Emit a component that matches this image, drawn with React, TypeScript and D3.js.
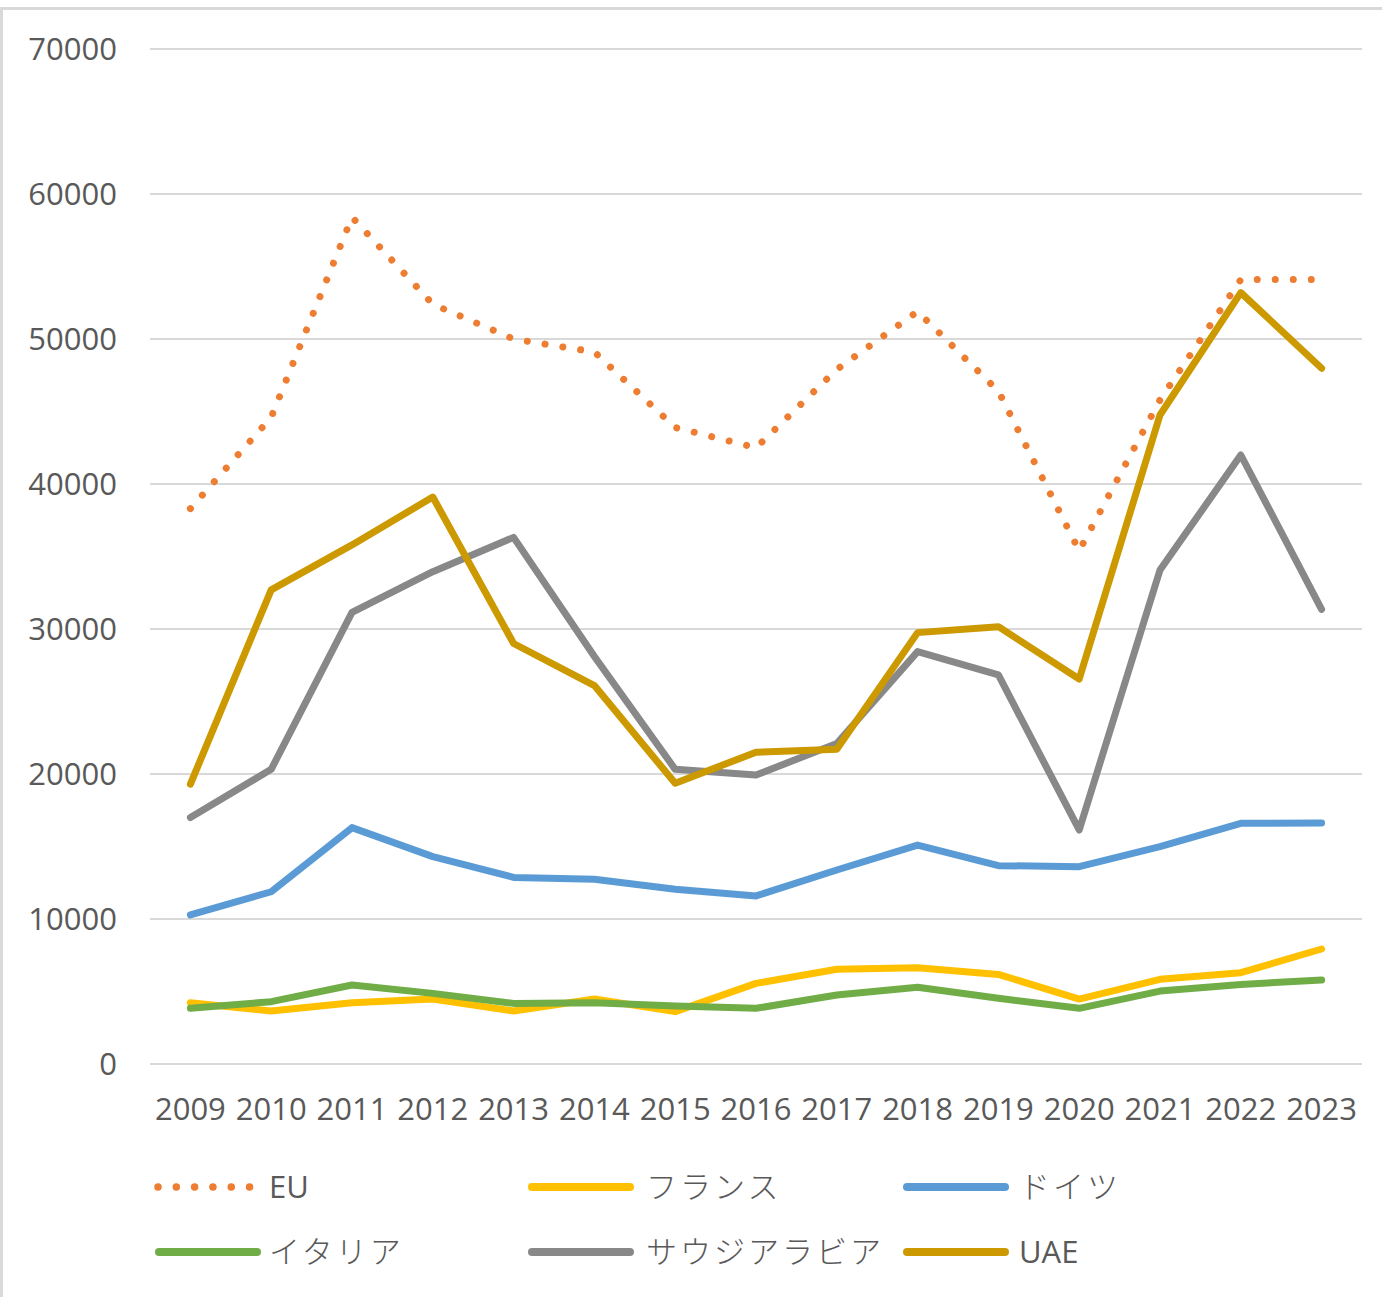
import React from "react";
import * as d3 from "d3";

const years = ["2009","2010","2011","2012","2013","2014","2015","2016","2017","2018","2019","2020","2021","2022","2023"];
const yTicks = [0, 10000, 20000, 30000, 40000, 50000, 60000, 70000];

const euValues = [38300, 44600, 58400, 52400, 50000, 49100, 43900, 42500, 47900, 51900, 46400, 35400, 45800, 54100, 54100];
const franceValues = [4230, 3650, 4230, 4480, 3650, 4480, 3610, 5560, 6530, 6640, 6180, 4480, 5840, 6300, 7930];
const germanyValues = [10280, 11880, 16300, 14300, 12870, 12740, 12050, 11590, 13380, 15100, 13680, 13610, 14990, 16600, 16620];
const italyValues = [3840, 4300, 5450, 4870, 4180, 4230, 4000, 3840, 4760, 5290, 4530, 3840, 5030, 5490, 5790];
const saudiValues = [17000, 20320, 31150, 33950, 36320, 28100, 20320, 19930, 22100, 28440, 26830, 16140, 34070, 42000, 31360];
const uaeValues = [19300, 32700, 35800, 39100, 29000, 26100, 19360, 21500, 21700, 29750, 30160, 26550, 44760, 53200, 47980];

const seriesNames = ["EU", "フランス", "ドイツ", "イタリア", "サウジアラビア", "UAE"];
const seriesColors = ["#ED7D31", "#FFC000", "#5B9BD5", "#70AD47", "#888888", "#CC9A00"];
const seriesData = [euValues, franceValues, germanyValues, italyValues, saudiValues, uaeValues];
const dotted = [true, false, false, false, false, false];
const japanese = [false, true, true, true, true, false];
// draw order: Italy and France under, then Germany, Saudi, UAE, EU on top
const drawOrder = [1, 3, 2, 4, 5, 0];

const W = 1382;
const H = 1297;
const plotLeft = 150;
const plotRight = 1362;
const plotTop = 49;
const plotBottom = 1064;
const FONT = "'Open Sans', 'Noto Sans CJK JP', sans-serif";
const TEXT = "#595959";

export default function App() {
  const x = d3.scaleBand<string>().domain(years).range([plotLeft, plotRight]);
  const y = d3.scaleLinear().domain([0, 70000]).range([plotBottom, plotTop]);
  const cx = (yr: string) => (x(yr) as number) + x.bandwidth() / 2;
  const line = d3
    .line<number>()
    .x((_, i) => cx(years[i]))
    .y((v) => y(v))
    .curve(d3.curveLinear);

  const legendRows = [
    [0, 1, 2],
    [3, 4, 5],
  ];
  const colLineX = [155, 528, 903];
  const colTextX = [269, 646, 1019];
  const rowY = [1187, 1252];

  return (
    <svg
      width={W}
      height={H}
      style={{ position: "absolute", left: 0, top: 0, background: "#fff" }}
      fontFamily={FONT}
    >
      <rect x={1.5} y={8.5} width={W + 20} height={H + 20} fill="#fff" stroke="#D9D9D9" strokeWidth={3} />
      {yTicks.map((t) => (
        <g key={t}>
          <line x1={plotLeft} x2={plotRight} y1={y(t)} y2={y(t)} stroke="#D9D9D9" strokeWidth={2} />
          <text x={117} y={y(t)} dy="0.36em" textAnchor="end" fontSize={31} fill={TEXT}>
            {t}
          </text>
        </g>
      ))}
      {years.map((yr) => (
        <text key={yr} x={cx(yr)} y={1109} dy="0.36em" textAnchor="middle" fontSize={31} fill={TEXT}>
          {yr}
        </text>
      ))}
      {drawOrder.map((si) => (
        <path
          key={si}
          d={line(seriesData[si]) || ""}
          fill="none"
          stroke={seriesColors[si]}
          strokeWidth={7}
          strokeLinecap="round"
          strokeLinejoin="round"
          strokeDasharray={dotted[si] ? "0.01 18" : undefined}
        />
      ))}
      {legendRows.map((row, r) =>
        row.map((si, c) => (
          <g key={si}>
            {dotted[si] ? (
              <line
                x1={colLineX[c] + 3}
                x2={colLineX[c] + 96}
                y1={rowY[r]}
                y2={rowY[r]}
                stroke={seriesColors[si]}
                strokeWidth={7.5}
                strokeLinecap="round"
                strokeDasharray="0.01 18.3"
              />
            ) : (
              <line
                x1={colLineX[c] + 4}
                x2={colLineX[c] + 102}
                y1={rowY[r]}
                y2={rowY[r]}
                stroke={seriesColors[si]}
                strokeWidth={8}
                strokeLinecap="round"
              />
            )}
            <text
              x={colTextX[c]}
              y={rowY[r]}
              dy="0.36em"
              fontSize={31}
              fill={TEXT}
              fontWeight={japanese[si] ? 300 : 400}
              letterSpacing={japanese[si] ? 3 : 0}
            >
              {seriesNames[si]}
            </text>
          </g>
        ))
      )}
    </svg>
  );
}
